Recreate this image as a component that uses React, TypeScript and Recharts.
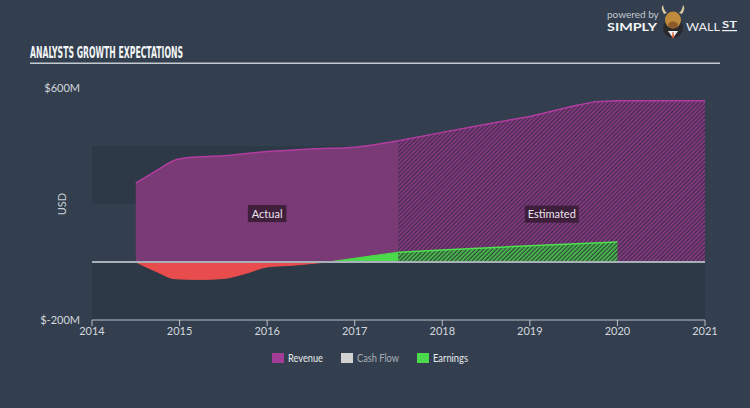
import React from 'react';
import {
  ComposedChart,
  Area,
  XAxis,
  YAxis,
  ReferenceArea,
  ReferenceLine,
  ReferenceDot,
} from 'recharts';

// ---------- data ----------
const xTicks = [2014, 2015, 2016, 2017, 2018, 2019, 2020, 2021];
const yTicks = [-200, 600];

const revenueActual = [
  { year: 2014.5, value: 272 },
  { year: 2014.75, value: 318 },
  { year: 2014.95, value: 352 },
  { year: 2015.1, value: 360 },
  { year: 2015.5, value: 366 },
  { year: 2016, value: 381 },
  { year: 2016.5, value: 390 },
  { year: 2017, value: 396 },
  { year: 2017.5, value: 418 },
];

const revenueEstimated = [
  { year: 2017.5, value: 418 },
  { year: 2018, value: 447 },
  { year: 2018.5, value: 475 },
  { year: 2019, value: 502 },
  { year: 2019.5, value: 538 },
  { year: 2019.75, value: 553 },
  { year: 2020, value: 556 },
  { year: 2021, value: 556 },
];

const earningsLoss = [
  { year: 2014.5, value: 0 },
  { year: 2014.75, value: -35 },
  { year: 2014.95, value: -58 },
  { year: 2015.25, value: -60 },
  { year: 2015.5, value: -57 },
  { year: 2015.75, value: -40 },
  { year: 2016, value: -17 },
  { year: 2016.3, value: -11 },
  { year: 2016.55, value: -4 },
  { year: 2016.7, value: 0 },
];

const earningsActual = [
  { year: 2016.7, value: 0 },
  { year: 2017, value: 13 },
  { year: 2017.5, value: 34 },
];

const earningsEstimated = [
  { year: 2017.5, value: 34 },
  { year: 2018, value: 41 },
  { year: 2019, value: 56 },
  { year: 2020, value: 69 },
];

const periodLabels = [
  { text: 'Actual', year: 2016, value: 167 },
  { text: 'Estimated', year: 2019.25, value: 165 },
];

const legendItems = [
  { name: 'Revenue', swatch: '#a33c97', text: '#e6e9ec' },
  { name: 'Cash Flow', swatch: '#d2d2d2', text: '#a7afb8' },
  { name: 'Earnings', swatch: '#4cd94c', text: '#e6e9ec' },
];

// ---------- styles ----------
const BG = '#333f4e';
const BAND = '#2d3947';
const FONT = 'Lato, "Open Sans", sans-serif';
const legendX = [272, 341, 417];
const legendTextW = [35, 42, 35];

const formatUsd = (v: number) => `$${v}M`;

const PeriodLabel = (props: any) => {
  const { cx, cy, text } = props;
  if (cx == null || cy == null) return null;
  const w = text.length * 5.1 + 8;
  const h = 17;
  return (
    <g>
      <rect x={cx - w / 2} y={cy - h / 2} width={w} height={h} fill="#3a1d37" opacity={0.92} />
      <text
        x={cx}
        y={cy + 4}
        textAnchor="middle"
        fontSize={11}
        fontFamily={FONT}
        fill="#ece4ec"
      >
        {text}
      </text>
    </g>
  );
};

export default function App() {
  return (
    <div
      style={{
        position: 'absolute',
        left: 0,
        top: 0,
        width: 750,
        height: 408,
        background: BG,
        overflow: 'hidden',
      }}
    >
      <div style={{ position: 'absolute', left: 0, top: 0 }}>
        <ComposedChart
          width={750}
          height={408}
          margin={{ top: 88, right: 45, bottom: 57, left: 0 }}
        >
          <defs>
            <pattern
              id="hatchRev"
              width="3"
              height="3"
              patternUnits="userSpaceOnUse"
              patternTransform="rotate(45)"
            >
              <rect width="3" height="3" fill="#402b48" />
              <rect width="1.6" height="3" fill="#8f3b8a" />
            </pattern>
            <pattern
              id="hatchEarn"
              width="3"
              height="3"
              patternUnits="userSpaceOnUse"
              patternTransform="rotate(45)"
            >
              <rect width="3" height="3" fill="#2f4a3c" />
              <rect width="1.6" height="3" fill="#4cc64c" />
            </pattern>
          </defs>

          <ReferenceArea y1={-200} y2={0} fill={BAND} fillOpacity={1} stroke="none" />
          <ReferenceArea y1={200} y2={400} fill={BAND} fillOpacity={1} stroke="none" />

          <XAxis
            dataKey="year"
            type="number"
            domain={[2014, 2021]}
            ticks={xTicks}
            allowDataOverflow
            height={31}
            stroke="#b9c1c9"
            tickSize={6}
            tickMargin={1}
            tick={{ fill: '#d3d8de', fontSize: 11, fontFamily: FONT }}
          />
          <YAxis
            type="number"
            domain={[-200, 600]}
            ticks={yTicks}
            width={92}
            axisLine={false}
            tickLine={false}
            tickSize={6}
            tickMargin={6}
            tickFormatter={formatUsd}
            tick={{ fill: '#d3d8de', fontSize: 11, fontFamily: FONT }}
          />

          <Area
            data={revenueActual}
            dataKey="value"
            type="monotone"
            fill="#7a3a76"
            fillOpacity={1}
            stroke="#b23da0"
            strokeWidth={1.5}
            isAnimationActive={false}
          />
          <Area
            data={revenueEstimated}
            dataKey="value"
            type="linear"
            fill="url(#hatchRev)"
            fillOpacity={1}
            stroke="#b23da0"
            strokeWidth={1.5}
            isAnimationActive={false}
          />
          <Area
            data={earningsLoss}
            dataKey="value"
            type="monotone"
            fill="#e84c4c"
            fillOpacity={1}
            stroke="#e84c4c"
            strokeWidth={1}
            isAnimationActive={false}
          />
          <Area
            data={earningsActual}
            dataKey="value"
            type="monotone"
            fill="#4cd94c"
            fillOpacity={1}
            stroke="#4cd94c"
            strokeWidth={1}
            isAnimationActive={false}
          />
          <Area
            data={earningsEstimated}
            dataKey="value"
            type="linear"
            fill="url(#hatchEarn)"
            fillOpacity={1}
            stroke="#4ee04e"
            strokeWidth={1.5}
            isAnimationActive={false}
          />

          <ReferenceLine y={0} stroke="#a8b0b8" strokeWidth={2} />

          {periodLabels.map((p) => (
            <ReferenceDot
              key={p.text}
              x={p.year}
              y={p.value}
              r={0}
              shape={(props: any) => <PeriodLabel {...props} text={p.text} />}
            />
          ))}
        </ComposedChart>
      </div>

      <svg
        width={750}
        height={408}
        style={{ position: 'absolute', left: 0, top: 0, pointerEvents: 'none' }}
      >
        {/* title */}
        <text
          x={30}
          y={58}
          fontSize={15}
          fontWeight="bold"
          fontFamily='"DejaVu Sans Condensed", "Liberation Sans Narrow", sans-serif'
          fill="#f2f4f6"
          textLength={153}
          lengthAdjust="spacingAndGlyphs"
        >
          ANALYSTS GROWTH EXPECTATIONS
        </text>
        <rect x={30} y={62.5} width={690} height={1.5} fill="#c3cad1" />

        {/* logo */}
        <text x={607} y={18} fontSize={10} fontFamily={FONT} fill="#c2c8ce">
          powered by
        </text>
        <text
          x={607}
          y={31}
          fontSize={12}
          fontWeight="bold"
          fontFamily={FONT}
          fill="#f4f5f6"
          textLength={50}
          lengthAdjust="spacingAndGlyphs"
        >
          SIMPLY
        </text>
        <circle cx={673} cy={28} r={10} fill="#2a2a2e" />
        <path d="M668 31 L673 38 L678 31 Z" fill="#f0f0f0" />
        <path d="M672.5 32 L673.5 32 L674 38 L672 38 Z" fill="#e0562a" />
        <ellipse cx={673} cy={20} rx={8} ry={8.5} fill="#c08a3c" />
        <ellipse cx={673} cy={25} rx={5} ry={3.5} fill="#8a5a2a" />
        <path d="M664 14 Q660 8 663 5 Q664 11 667 13 Z" fill="#d9c9a0" />
        <path d="M682 14 Q686 8 683 5 Q682 11 679 13 Z" fill="#d9c9a0" />
        <text
          x={686}
          y={31}
          fontSize={12}
          fontFamily={FONT}
          fill="#eceef0"
          textLength={34}
          lengthAdjust="spacingAndGlyphs"
        >
          WALL
        </text>
        <text
          x={722}
          y={28}
          fontSize={10}
          fontWeight="bold"
          fontFamily={FONT}
          fill="#eceef0"
          textLength={15}
          lengthAdjust="spacingAndGlyphs"
        >
          ST
        </text>
        <rect x={722} y={30} width={15} height={1.2} fill="#eceef0" />

        {/* y axis title */}
        <text
          x={0}
          y={0}
          transform="translate(66 204) rotate(-90)"
          textAnchor="middle"
          fontSize={11}
          fontFamily={FONT}
          fill="#c8ced4"
        >
          USD
        </text>

        {/* legend */}
        {legendItems.map((item, i) => {
          const x = legendX[i];
          return (
            <g key={item.name}>
              <rect x={x} y={353} width={12} height={10} fill={item.swatch} />
              <text
                x={x + 16}
                y={362}
                fontSize={11}
                fontFamily={FONT}
                fill={item.text}
                textLength={legendTextW[i]}
                lengthAdjust="spacingAndGlyphs"
              >
                {item.name}
              </text>
            </g>
          );
        })}
      </svg>
    </div>
  );
}
